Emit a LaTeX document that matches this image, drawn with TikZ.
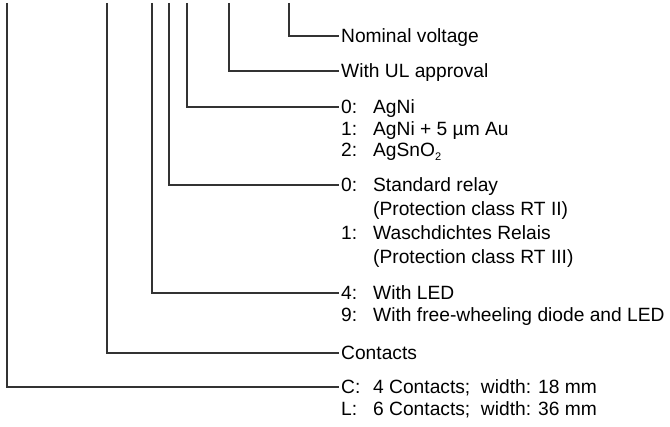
\documentclass[tikz,border=0pt]{standalone}
\usepackage{fontspec}
\setmainfont{Liberation Sans}
\newcommand{\keyno}[1]{\makebox[32pt][l]{#1}}

\begin{document}
\begin{tikzpicture}[x=1pt,y=-1pt]
        \tikzset{lead line/.style={draw=black!80, line width=1.2pt},
                 key text/.style={anchor=west, inner xsep=2pt, inner ysep=0pt,
                     text height=14pt, text depth=0pt,
                     font=\fontsize{19.2}{22}\selectfont}}
        \useasboundingbox (0,0) rectangle (670,427);

        % upper ends of the lead lines
        \coordinate (topC) at (7,3);
        \coordinate (topK) at (107,3);
        \coordinate (topL) at (152,3);
        \coordinate (topR) at (169,3);
        \coordinate (topM) at (187,3);
        \coordinate (topU) at (229,3);
        \coordinate (topV) at (289,3);

        \node[key text] (volt) at (339,36) {Nominal voltage};
        \node[key text] (ul) at (339,71) {With UL approval};

        \node[key text] (mat0) at (339,107) {\keyno{0:}AgNi};
        \node[key text] (mat1) at (339,128.5) {\keyno{1:}AgNi + 5 µm Au};
        \node[key text] (mat2) at (339,150) {\keyno{2:}AgSnO\raisebox{-4pt}{\fontsize{11}{11}\selectfont 2}};

        \node[key text] (rel0) at (339,185) {\keyno{0:}Standard relay};
        \node[key text] (rel0b) at (339,209) {\keyno{}(Protection class RT II)};
        \node[key text] (rel1) at (339,233) {\keyno{1:}Waschdichtes Relais};
        \node[key text] (rel1b) at (339,257) {\keyno{}(Protection class RT III)};

        \node[key text] (led4) at (339,293) {\keyno{4:}With LED};
        \node[key text] (led9) at (339,315) {\keyno{9:}With free-wheeling diode and LED};

        \node[key text] (cont) at (339,353) {Contacts};

        \node[key text] (wid4) at (339,387) {\keyno{C:}4 Contacts;\ \ width: 18 mm};
        \node[key text] (wid6) at (339,409) {\keyno{L:}6 Contacts;\ \ width: 36 mm};

        \draw[lead line] (topV) |- (volt.west);
        \draw[lead line] (topU) |- (ul.west);
        \draw[lead line] (topM) |- (mat0.west);
        \draw[lead line] (topR) |- (rel0.west);
        \draw[lead line] (topL) |- (led4.west);
        \draw[lead line] (topK) |- (cont.west);
        \draw[lead line] (topC) |- (wid4.west);
    \end{tikzpicture}
\end{document}
